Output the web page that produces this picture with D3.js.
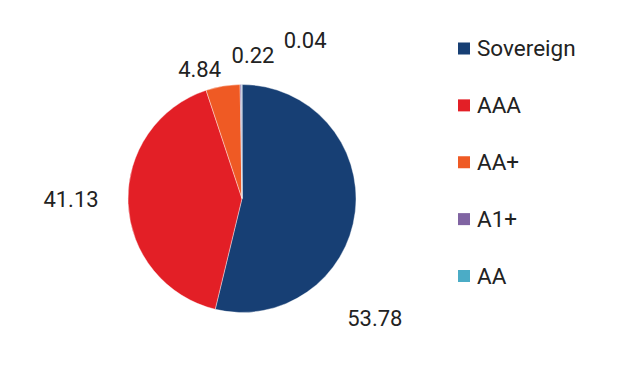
<!DOCTYPE html>
<html><head><meta charset="utf-8">
<script src="https://cdn.jsdelivr.net/npm/d3@7"></script>
<style>html,body{margin:0;padding:0;background:#fff;}svg{display:block;font-family:Roboto,sans-serif;}</style>
</head><body>
<svg id="c" width="636" height="367"></svg>
<script>
const categories = ["Sovereign", "AAA", "AA+", "A1+", "AA"];
const values = [53.78, 41.13, 4.84, 0.22, 0.04];
const colors = ["#173f74", "#e31f26", "#ef5a24", "#8064a2", "#4bacc6"];
const valueLabels = ["53.78", "41.13", "4.84", "0.22", "0.04"];

// layout constants (label placement, degrees clockwise from top and distance)
const labelPolar = [[132.1, 179], [269.7, 171], [341.8, 135.8], [4.4, 143.4], [21.7, 170.6]];

const svg = d3.select("#c");
const cx = 242, cy = 198.5, R = 114;
const g = svg.append("g").attr("transform", `translate(${cx},${cy})`);
const data = categories.map((c, i) => ({c, v: values[i], color: colors[i], label: valueLabels[i], i}));
const pie = d3.pie().value(d => d.v).sort(null);
const arc = d3.arc().innerRadius(0).outerRadius(R);
g.selectAll("path").data(pie(data)).join("path")
  .attr("d", arc).attr("fill", d => d.data.color)
  .attr("stroke", "#fff").attr("stroke-width", 0.4);

g.selectAll("text.val").data(data).join("text").attr("class", "val")
  .attr("x", d => { const a = labelPolar[d.i][0] * Math.PI / 180; return Math.sin(a) * labelPolar[d.i][1]; })
  .attr("y", d => { const a = labelPolar[d.i][0] * Math.PI / 180; return -Math.cos(a) * labelPolar[d.i][1]; })
  .attr("text-anchor", "middle").attr("dy", "0.36em")
  .attr("font-size", 22).attr("fill", "#222")
  .text(d => d.label);

const ly = d3.scalePoint().domain(categories).range([48.5, 276]);
const leg = svg.append("g");
const rows = leg.selectAll("g").data(data).join("g")
  .attr("transform", d => `translate(458,${ly(d.c)})`);
rows.append("rect").attr("x", 0).attr("y", -6).attr("width", 12).attr("height", 12).attr("fill", d => d.color);
rows.append("text").attr("x", 19).attr("y", 7.5).attr("font-size", 22.5).attr("fill", "#222").text(d => d.c);
</script>
</body></html>
